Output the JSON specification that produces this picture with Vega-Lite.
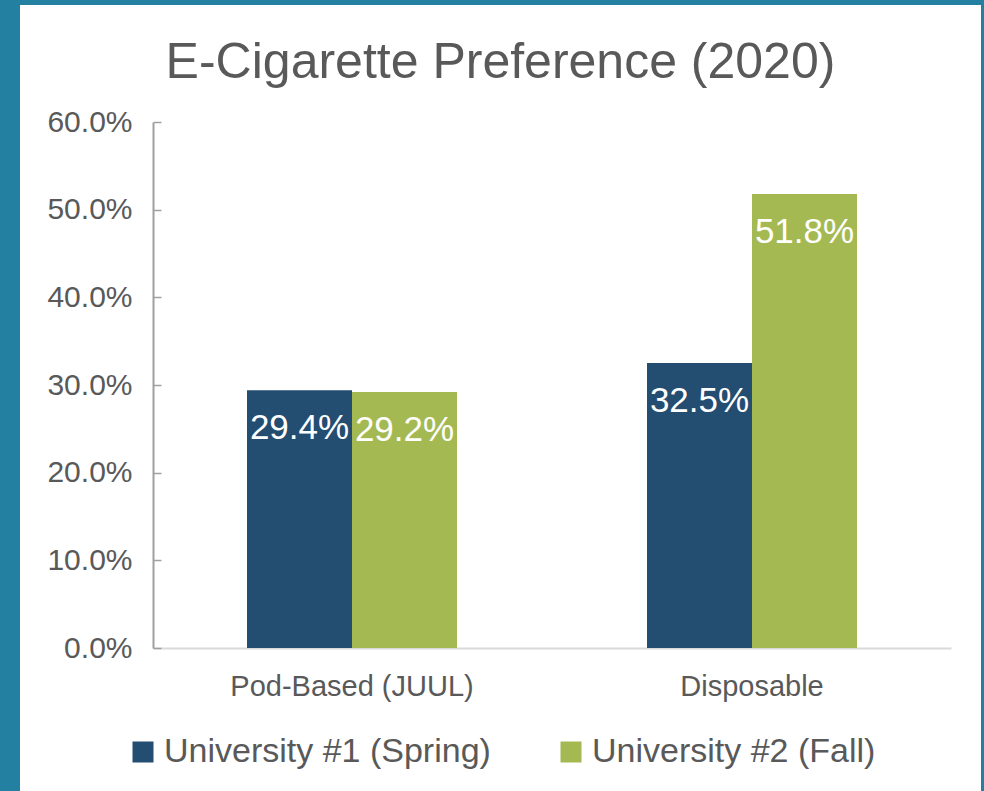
{
  "$schema": "https://vega.github.io/schema/vega-lite/v6.json",
  "autosize": "none",
  "width": 961,
  "height": 786,
  "padding": {"left": 20, "top": 5, "right": 3, "bottom": 0},
  "background": "#2380A1",
  "title": {
    "text": "E-Cigarette Preference (2020)",
    "font": "Liberation Sans",
    "fontSize": 50,
    "fontWeight": "normal",
    "color": "#595959",
    "anchor": "middle",
    "frame": "group",
    "baseline": "alphabetic",
    "offset": -50,
    "dy": 73
  },
  "data": {
    "values": [
      {"type": "Pod-Based (JUUL)", "school": "University #1 (Spring)", "value": 0.294},
      {"type": "Pod-Based (JUUL)", "school": "University #2 (Fall)", "value": 0.292},
      {"type": "Disposable", "school": "University #1 (Spring)", "value": 0.325},
      {"type": "Disposable", "school": "University #2 (Fall)", "value": 0.518}
    ]
  },
  "encoding": {
    "x": {
      "field": "type",
      "type": "nominal",
      "sort": ["Pod-Based (JUUL)", "Disposable"],
      "scale": {"range": [133, 931], "paddingInner": 0.475, "paddingOuter": 0.235},
      "axis": {
        "title": null,
        "offset": -143,
        "domainColor": "#D9D9D9",
        "domainWidth": 2,
        "ticks": false,
        "labelFont": "Liberation Sans",
        "labelFontSize": 29,
        "labelColor": "#595959",
        "labelPadding": 24,
        "labelLimit": 0,
        "labelAngle": 0
      }
    },
    "xOffset": {
      "field": "school",
      "type": "nominal",
      "sort": ["University #1 (Spring)", "University #2 (Fall)"],
      "scale": {"paddingInner": 0, "paddingOuter": 0}
    },
    "y": {
      "field": "value",
      "type": "quantitative",
      "scale": {"domain": [0, 0.6], "nice": false, "range": [643, 117]},
      "axis": {
        "title": null,
        "offset": -133,
        "values": [0, 0.1, 0.2, 0.3, 0.4, 0.5, 0.6],
        "format": ".1%",
        "grid": false,
        "domainColor": "#A0A0A0",
        "domainWidth": 2,
        "tickColor": "#A0A0A0",
        "tickWidth": 1.5,
        "tickSize": -8,
        "labelFont": "Liberation Sans",
        "labelFontSize": 30,
        "labelColor": "#595959",
        "labelPadding": 29
      }
    }
  },
  "layer": [
    {
      "mark": {"type": "bar", "clip": false},
      "encoding": {
        "color": {
          "field": "school",
          "type": "nominal",
          "sort": ["University #1 (Spring)", "University #2 (Fall)"],
          "scale": {"range": ["#234D71", "#A5B952"]},
          "legend": {
            "title": null,
            "orient": "none",
            "direction": "horizontal",
            "legendX": 106,
            "legendY": 730,
            "padding": 0,
            "symbolType": "square",
            "symbolSize": 441,
            "symbolStrokeWidth": 0,
            "symbolOpacity": 1,
            "labelFont": "Liberation Sans",
            "labelFontSize": 34,
            "labelColor": "#595959",
            "labelOffset": 4,
            "labelLimit": 0,
            "columnPadding": 63
          }
        }
      }
    },
    {
      "mark": {
        "type": "text",
        "color": "white",
        "font": "Liberation Sans",
        "fontSize": 35,
        "baseline": "alphabetic",
        "align": "center",
        "dy": 49
      },
      "encoding": {
        "text": {"field": "value", "type": "quantitative", "format": ".1%"}
      }
    }
  ],
  "config": {
    "view": {"fill": "white", "stroke": null}
  }
}
